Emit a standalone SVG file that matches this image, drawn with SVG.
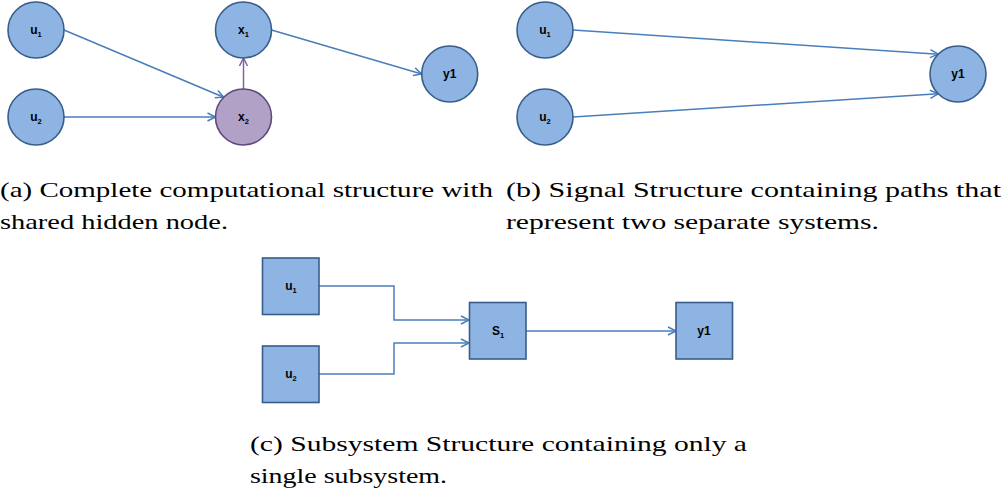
<svg xmlns="http://www.w3.org/2000/svg" width="1008" height="497" viewBox="0 0 1008 497">
<style>
.n{fill:#8DB4E2;stroke:#385D8A;stroke-width:1.6}
.p{fill:#B2A1C7;stroke:#5F497A;stroke-width:1.6}
.lbl{font-family:"Liberation Sans",Arial,sans-serif;font-weight:bold;font-size:12px;fill:#000;text-anchor:middle}
.sub{font-size:7.5px}
.e{fill:none;stroke:#4A7EBB;stroke-width:1.5}
.ep{fill:none;stroke:#8064A2;stroke-width:1.5}
.cap{font-family:"Liberation Serif","Times New Roman",serif;font-size:22px;fill:#000}
</style>
<defs>
<marker id="ah" markerUnits="userSpaceOnUse" markerWidth="12" markerHeight="12" refX="9" refY="5" orient="auto">
<path d="M1,1 L9,5 L1,9" fill="none" stroke="#4A7EBB" stroke-width="1.5"/>
</marker>
<marker id="ahp" markerUnits="userSpaceOnUse" markerWidth="12" markerHeight="12" refX="9" refY="5" orient="auto">
<path d="M1,1 L9,5 L1,9" fill="none" stroke="#8064A2" stroke-width="1.5"/>
</marker>
</defs>

<g id="connectors">
<line class="e" x1="64" y1="30" x2="223.7" y2="97.2" marker-end="url(#ah)"/>
<line class="e" x1="64" y1="117" x2="215.5" y2="117" marker-end="url(#ah)"/>
<line class="ep" x1="243.5" y1="89" x2="243.5" y2="58" marker-end="url(#ahp)"/>
<line class="e" x1="271.5" y1="30" x2="421.7" y2="74" marker-end="url(#ah)"/>
<line class="e" x1="573" y1="30" x2="938.2" y2="54.2" marker-end="url(#ah)"/>
<line class="e" x1="573" y1="117" x2="938.2" y2="93.8" marker-end="url(#ah)"/>
<polyline class="e" points="319,286 394,286 394,320 469,320" marker-end="url(#ah)"/>
<polyline class="e" points="319,374 394,374 394,343 469,343" marker-end="url(#ah)"/>
<line class="e" x1="526" y1="331" x2="676" y2="331" marker-end="url(#ah)"/>
</g>

<g id="a_u1"><circle class="n" cx="36" cy="30" r="28"/><text class="lbl" x="36" y="34">u<tspan class="sub" dy="3">1</tspan></text></g>
<g id="a_u2"><circle class="n" cx="36" cy="117" r="28"/><text class="lbl" x="36" y="121">u<tspan class="sub" dy="3">2</tspan></text></g>
<g id="a_x1"><circle class="n" cx="243.5" cy="30" r="28"/><text class="lbl" x="243.5" y="34">x<tspan class="sub" dy="3">1</tspan></text></g>
<g id="a_x2"><circle class="p" cx="243.5" cy="117" r="28"/><text class="lbl" x="243.5" y="121">x<tspan class="sub" dy="3">2</tspan></text></g>
<g id="a_y1"><circle class="n" cx="449.7" cy="74" r="28"/><text class="lbl" x="449.7" y="78">y1</text></g>

<g id="b_u1"><circle class="n" cx="545" cy="30" r="28"/><text class="lbl" x="545" y="34">u<tspan class="sub" dy="3">1</tspan></text></g>
<g id="b_u2"><circle class="n" cx="545" cy="117" r="28"/><text class="lbl" x="545" y="121">u<tspan class="sub" dy="3">2</tspan></text></g>
<g id="b_y1"><circle class="n" cx="958" cy="74" r="28"/><text class="lbl" x="958" y="78">y1</text></g>

<g id="c_u1"><rect class="n" x="262.5" y="258" width="56.5" height="56.5"/><text class="lbl" x="291" y="290">u<tspan class="sub" dy="3">1</tspan></text></g>
<g id="c_u2"><rect class="n" x="262.5" y="346" width="56.5" height="56.5"/><text class="lbl" x="291" y="378">u<tspan class="sub" dy="3">2</tspan></text></g>
<g id="c_s1"><rect class="n" x="469.5" y="302.5" width="56.5" height="56.5"/><text class="lbl" x="498" y="335">S<tspan class="sub" dy="3">1</tspan></text></g>
<g id="c_y1"><rect class="n" x="676" y="302.5" width="56.5" height="56.5"/><text class="lbl" x="704" y="335">y1</text></g>

<g id="captions">
<text class="cap" x="0" y="197" textLength="493" lengthAdjust="spacingAndGlyphs">(a) Complete computational structure with</text>
<text class="cap" x="0" y="229" textLength="228" lengthAdjust="spacingAndGlyphs">shared hidden node.</text>
<text class="cap" x="506" y="197" textLength="495" lengthAdjust="spacingAndGlyphs">(b) Signal Structure containing paths that</text>
<text class="cap" x="506" y="229" textLength="373" lengthAdjust="spacingAndGlyphs">represent two separate systems.</text>
<text class="cap" x="250" y="451" textLength="497" lengthAdjust="spacingAndGlyphs">(c) Subsystem Structure containing only a</text>
<text class="cap" x="250" y="483" textLength="197" lengthAdjust="spacingAndGlyphs">single subsystem.</text>
</g>
</svg>
